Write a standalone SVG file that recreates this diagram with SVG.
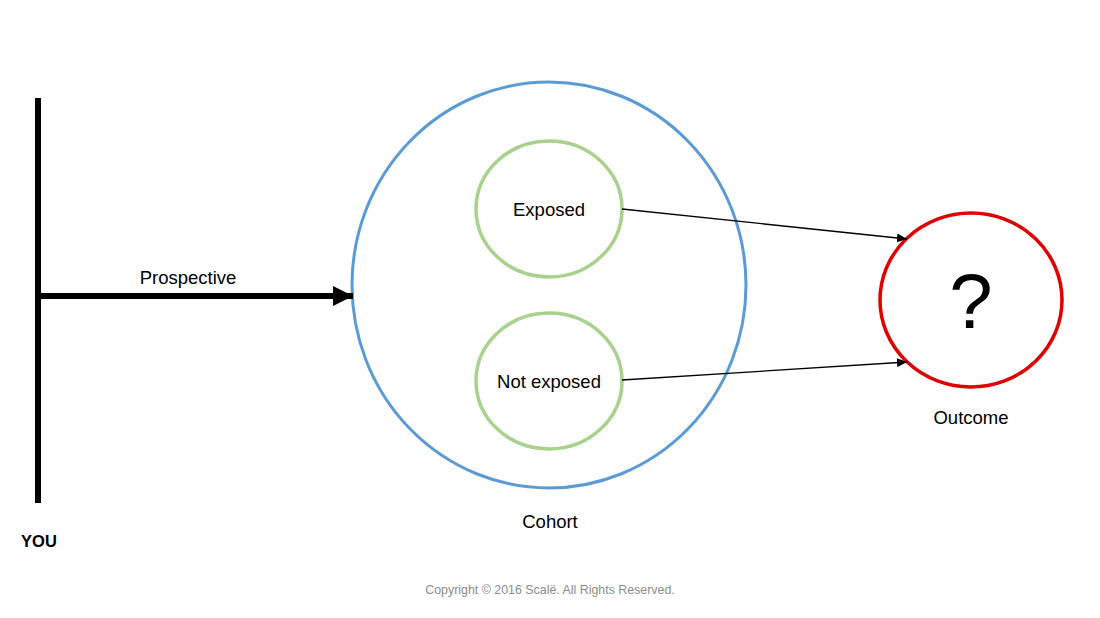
<svg xmlns="http://www.w3.org/2000/svg" width="1100" height="618" viewBox="0 0 1100 618">
<defs>
<style>
.t{font-family:"Liberation Sans",Arial,sans-serif;font-size:18.5px;fill:#000;text-anchor:middle}
.g{fill:#fff;stroke:#a9d18e;stroke-width:3.5}
</style>
<marker id="big" markerUnits="userSpaceOnUse" markerWidth="22" markerHeight="20" refX="20" refY="10" orient="auto"><path d="M0,0 L20,10 L0,20 Z" fill="#000"/></marker>
<marker id="small" markerUnits="userSpaceOnUse" markerWidth="11" markerHeight="9" refX="10" refY="4.5" orient="auto"><path d="M0,0 L10,4.5 L0,9 Z" fill="#000"/></marker>
</defs>
<rect width="1100" height="618" fill="#fff"/>
<g id="you">
<line x1="38" y1="98" x2="38" y2="503" stroke="#000" stroke-width="6"/>
<text x="39" y="547" class="t" style="font-weight:bold;font-size:16.5px">YOU</text>
</g>
<g id="cohort">
<ellipse cx="549" cy="285" rx="197" ry="203" fill="#fff" stroke="#5b9bd5" stroke-width="3"/>
<text x="550" y="528" class="t">Cohort</text>
</g>
<g id="exposed">
<ellipse cx="549" cy="209" rx="73" ry="68" class="g"/>
<text x="549" y="216" class="t">Exposed</text>
</g>
<g id="notexposed">
<ellipse cx="549" cy="381" rx="73" ry="68" class="g"/>
<text x="549" y="388" class="t">Not exposed</text>
</g>
<g id="outcome">
<ellipse cx="971" cy="300" rx="91" ry="87" fill="#fff" stroke="#e00000" stroke-width="3.5"/>
<text x="971" y="328" class="t" style="font-size:78px">?</text>
<text x="971" y="424" class="t">Outcome</text>
</g>
<g id="connectors">
<line x1="38" y1="296" x2="353" y2="296" stroke="#000" stroke-width="6" marker-end="url(#big)"/>
<text x="188" y="284" class="t">Prospective</text>
<line x1="622" y1="209" x2="907" y2="239" stroke="#000" stroke-width="1.3" marker-end="url(#small)"/>
<line x1="622" y1="380" x2="907" y2="362" stroke="#000" stroke-width="1.3" marker-end="url(#small)"/>
</g>
<text x="550" y="594" class="t" style="font-size:12.4px;fill:#8c8c8c">Copyright © 2016 Scalë. All Rights Reserved.</text>
</svg>
